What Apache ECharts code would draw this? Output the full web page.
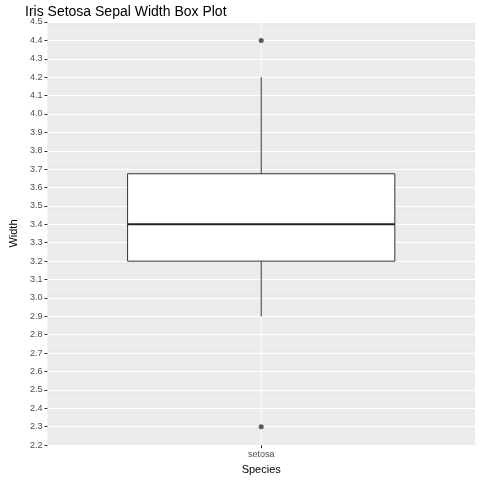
<html>
<head>
<meta charset="UTF-8">
<script src="https://cdn.jsdelivr.net/npm/echarts@6/dist/echarts.min.js"></script>
<style>body{margin:0}#main{width:480px;height:480px}</style>
</head>
<body>
<div id="main"></div>
<script>
var categories = ['setosa'];
// [low whisker, Q1, median, Q3, high whisker]
var boxValues = [[2.9, 3.2, 3.4, 3.675, 4.2]];
var outliers = [['setosa', 2.3], ['setosa', 4.4]];

var chart = echarts.init(document.getElementById('main'));
chart.setOption({
    animation: false,
    textStyle: {fontFamily: 'Liberation Sans, Arial'},
    title: {text: 'Iris Setosa Sepal Width Box Plot', left: 20, top: 0,
        textStyle: {fontSize: 14, fontWeight: 'normal', color: '#000'}},
    grid: {left: 37, right: 5, top: 22, bottom: 32, show: true,
        backgroundColor: '#EBEBEB', borderWidth: 0, containLabel: false},
    xAxis: {
        type: 'category', data: categories, boundaryGap: true,
        name: 'Species', nameLocation: 'middle', nameGap: 18,
        nameTextStyle: {fontSize: 11, color: '#000'},
        axisLine: {show: false},
        axisTick: {show: true, alignWithLabel: true, lineStyle: {color: '#333'}, length: 3},
        axisLabel: {fontSize: 9, color: '#4D4D4D', margin: 5},
        splitLine: {show: false}
    },
    yAxis: {
        type: 'value', min: 2.2, max: 4.5, interval: 0.1,
        name: 'Width', nameLocation: 'middle', nameGap: 26,
        nameTextStyle: {fontSize: 11, color: '#000'},
        axisLine: {show: false},
        axisTick: {show: true, length: 3, lineStyle: {color: '#333'}},
        axisLabel: {fontSize: 9, color: '#4D4D4D', margin: 5,
            formatter: function (v) { return v.toFixed(1); }},
        splitLine: {lineStyle: {color: '#fff', width: 1}},
        minorTick: {show: false, splitNumber: 2},
        minorSplitLine: {show: true, lineStyle: {color: '#F5F5F5', width: 0.5}}
    },
    series: [{
        type: 'custom',
        data: boxValues.map(function (b, i) { return [i].concat(b); }),
        renderItem: function (params, api) {
            var x = api.coord([api.value(0), 0])[0];
            var band = api.size([1, 0])[0];
            var half = band * 0.625 / 2;
            var y = function (k) { return api.coord([0, api.value(k)])[1]; };
            var top = params.coordSys.y, bot = top + params.coordSys.height;
            var st = {stroke: '#333', lineWidth: 1, fill: null};
            return {type: 'group', children: [
                {type: 'line', shape: {x1: x, y1: top, x2: x, y2: bot}, style: {stroke: '#fff', lineWidth: 1}},
                {type: 'line', shape: {x1: x, y1: y(1), x2: x, y2: y(2)}, style: st},
                {type: 'line', shape: {x1: x, y1: y(4), x2: x, y2: y(5)}, style: st},
                {type: 'rect', shape: {x: x - half, y: y(4), width: half * 2, height: y(2) - y(4)},
                    style: {fill: '#fff', stroke: '#333', lineWidth: 1}},
                {type: 'line', shape: {x1: x - half, y1: y(3), x2: x + half, y2: y(3)},
                    style: {stroke: '#222', lineWidth: 2}}
            ]};
        }
    }, {
        type: 'scatter', data: outliers, symbolSize: 5,
        itemStyle: {color: '#333'}
    }]
});
</script>
</body>
</html>
